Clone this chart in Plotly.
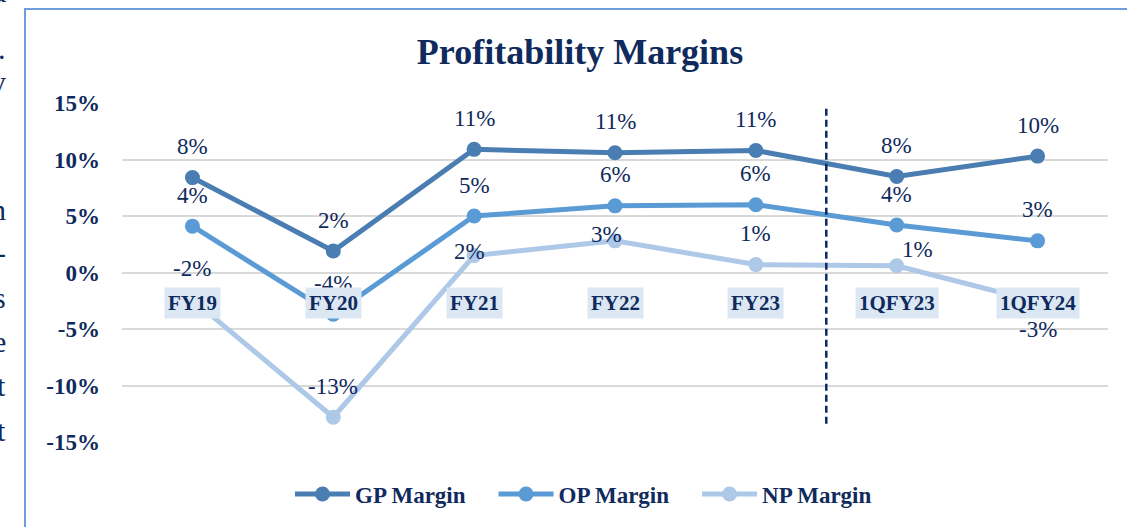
import plotly.graph_objects as go

# ---------------- data ----------------
categories = ["FY19", "FY20", "FY21", "FY22", "FY23", "1QFY23", "1QFY24"]
gp_margin = [8.4, 1.9, 10.9, 10.6, 10.8, 8.5, 10.3]
op_margin = [4.1, -3.7, 5.0, 5.9, 6.0, 4.2, 2.8]
np_margin = [-2.4, -12.8, 1.5, 2.8, 0.7, 0.6, -2.6]
series_names = ["GP Margin", "OP Margin", "NP Margin"]
y_ticks = [-15, -10, -5, 0, 5, 10, 15]
y_tick_labels = ["-15%", "-10%", "-5%", "0%", "5%", "10%", "15%"]
divider_between = 4.5            # dashed separator between FY23 and 1QFY23
divider_span = (14.5, -13.5)
title_text = "Profitability Margins"
side_text = ["a", ".", "y", "n", "-", "s", "e", "t", "t"]

# ---------------- style ----------------
W, H = 1127, 527
L, R, T, B = 122, 19, 103, 85
colors = ["#4a7db1", "#5b9bd5", "#aec8e7"]
navy = "#0f2a5c"
serif = "Liberation Serif, Times New Roman, serif"
PW, PH = W - L - R, H - T - B
# manual label offsets (pixels) for individual points: (xshift, yshift)
label_offsets = {
    "NP Margin": {2: (-5, 4), 3: (-9, 6), 5: (21, 16), 6: (0, -28)},
}


def px_x(px):
    return (px - L) / PW


def px_y(py):
    return (H - B - py) / PH


fig = go.Figure()
annotations = []
for name, vals, col in zip(series_names, [gp_margin, op_margin, np_margin], colors):
    fig.add_trace(go.Scatter(
        x=list(range(len(categories))), y=vals,
        name=f"<b>{name}</b>" + "\u00a0" * 4,
        mode="lines+markers",
        line=dict(color=col, width=5),
        marker=dict(color=col, size=15),
    ))
    offs = label_offsets.get(name, {})
    for i, v in enumerate(vals):
        dx, dy = offs.get(i, (0, 31))
        annotations.append(dict(
            x=i, y=v, xref="x", yref="y", text=f"{round(v):.0f}%",
            showarrow=False, xshift=dx, yshift=dy,
            font=dict(family=serif, size=23, color=navy),
            xanchor="center", yanchor="middle",
        ))

for i, c in enumerate(categories):
    annotations.append(dict(
        x=i, y=0, xref="x", yref="y", text=f"<b>{c}</b>", showarrow=False,
        yshift=-30, bgcolor="#dce7f4", borderpad=3,
        font=dict(family=serif, size=21, color=navy),
        xanchor="center", yanchor="middle",
    ))

side_y = [-8, 49, 82, 209, 252, 297, 341, 385, 430]
for ch, py in zip(side_text, side_y):
    annotations.append(dict(
        x=px_x(8), y=px_y(py), xref="paper", yref="paper", text=ch,
        showarrow=False, xanchor="right", yanchor="middle",
        font=dict(family=serif, size=30, color=navy),
    ))

shapes = [
    dict(type="line", xref="x", yref="y", x0=divider_between, x1=divider_between,
         y0=divider_span[0], y1=divider_span[1],
         line=dict(color="#0b2a66", width=2.5, dash="7px,4px")),
    dict(type="rect", xref="paper", yref="paper",
         x0=px_x(25), x1=px_x(W + 20), y0=px_y(9), y1=px_y(H + 20),
         line=dict(color="#6c9fdc", width=2), fillcolor="rgba(0,0,0,0)", layer="below"),
]

fig.update_layout(
    width=W, height=H,
    margin=dict(l=L, r=R, t=T, b=B, autoexpand=False),
    paper_bgcolor="white", plot_bgcolor="white",
    title=dict(text=f"<b>{title_text}</b>", x=580 / W, xanchor="center",
               y=1 - 51 / H, yanchor="middle",
               font=dict(family=serif, size=36, color=navy)),
    xaxis=dict(range=[-0.5, len(categories) - 0.5], showticklabels=False,
               showgrid=False, zeroline=False, showline=False, fixedrange=True,
               automargin=False),
    yaxis=dict(range=[-15, 15], tickvals=y_ticks,
               ticktext=[f"<b>{t}</b>" for t in y_tick_labels],
               showgrid=True, gridcolor="#d9d9d9", gridwidth=2,
               zeroline=False, showline=False, ticks="",
               ticklabelstandoff=21, automargin=False,
               tickfont=dict(family=serif, size=23, color=navy)),
    showlegend=True,
    legend=dict(orientation="h", x=px_x(595), xanchor="center",
                y=px_y(494), yanchor="middle", itemwidth=55,
                font=dict(family=serif, size=23, color=navy),
                traceorder="normal", bgcolor="rgba(0,0,0,0)"),
    annotations=annotations,
    shapes=shapes,
)

fig.write_html(
    "out.html",
    config={"displayModeBar": False},
    post_script="document.body.style.margin='0px';document.body.style.overflow='hidden';",
)
